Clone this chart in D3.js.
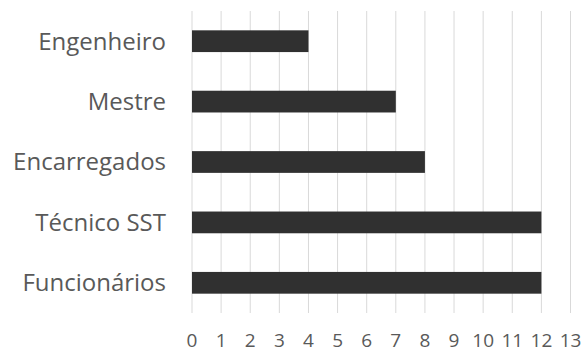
<!DOCTYPE html>
<html>
<head>
<meta charset="utf-8">
<script src="https://cdn.jsdelivr.net/npm/d3@7/dist/d3.min.js"></script>
<style>
  html, body { margin: 0; padding: 0; background: #fff; }
  svg text { font-family: "Open Sans", "Liberation Sans", sans-serif; fill: #595959; }
</style>
</head>
<body>
<svg id="chart" width="583" height="353"></svg>
<script>
const categories = ["Engenheiro", "Mestre", "Encarregados", "Técnico SST", "Funcionários"];
const values = [4, 7, 8, 12, 12];
const tickValues = [0, 1, 2, 3, 4, 5, 6, 7, 8, 9, 10, 11, 12, 13];

const svg = d3.select("#chart");
const margin = { left: 192, right: 12, top: 11, bottom: 40 };
const width = 583, height = 353;

const x = d3.scaleLinear().domain([0, 13]).range([margin.left, 570.5]);
const y = d3.scaleBand().domain(categories)
  .range([margin.top, height - margin.bottom]).paddingInner(0.64).paddingOuter(0.32);

// vertical gridlines
svg.append("g").selectAll("line").data(tickValues).join("line")
  .attr("x1", d => x(d)).attr("x2", d => x(d))
  .attr("y1", margin.top).attr("y2", height - margin.bottom)
  .attr("stroke", "#d9d9d9").attr("stroke-width", 1);

// bars
svg.append("g").selectAll("rect").data(categories).join("rect")
  .attr("x", x(0))
  .attr("y", d => y(d))
  .attr("width", (d, i) => x(values[i]) - x(0))
  .attr("height", y.bandwidth())
  .attr("fill", "#303030");

// category labels
svg.append("g").selectAll("text").data(categories).join("text")
  .attr("x", 166)
  .attr("y", d => y(d) + y.bandwidth() / 2)
  .attr("dy", "0.35em")
  .attr("text-anchor", "end")
  .attr("font-size", 24)
  .text(d => d);

// value axis labels
svg.append("g").selectAll("text").data(tickValues).join("text")
  .attr("x", d => x(d))
  .attr("y", 347)
  .attr("text-anchor", "middle")
  .attr("font-size", 19)
  .text(d => d);
</script>
</body>
</html>
